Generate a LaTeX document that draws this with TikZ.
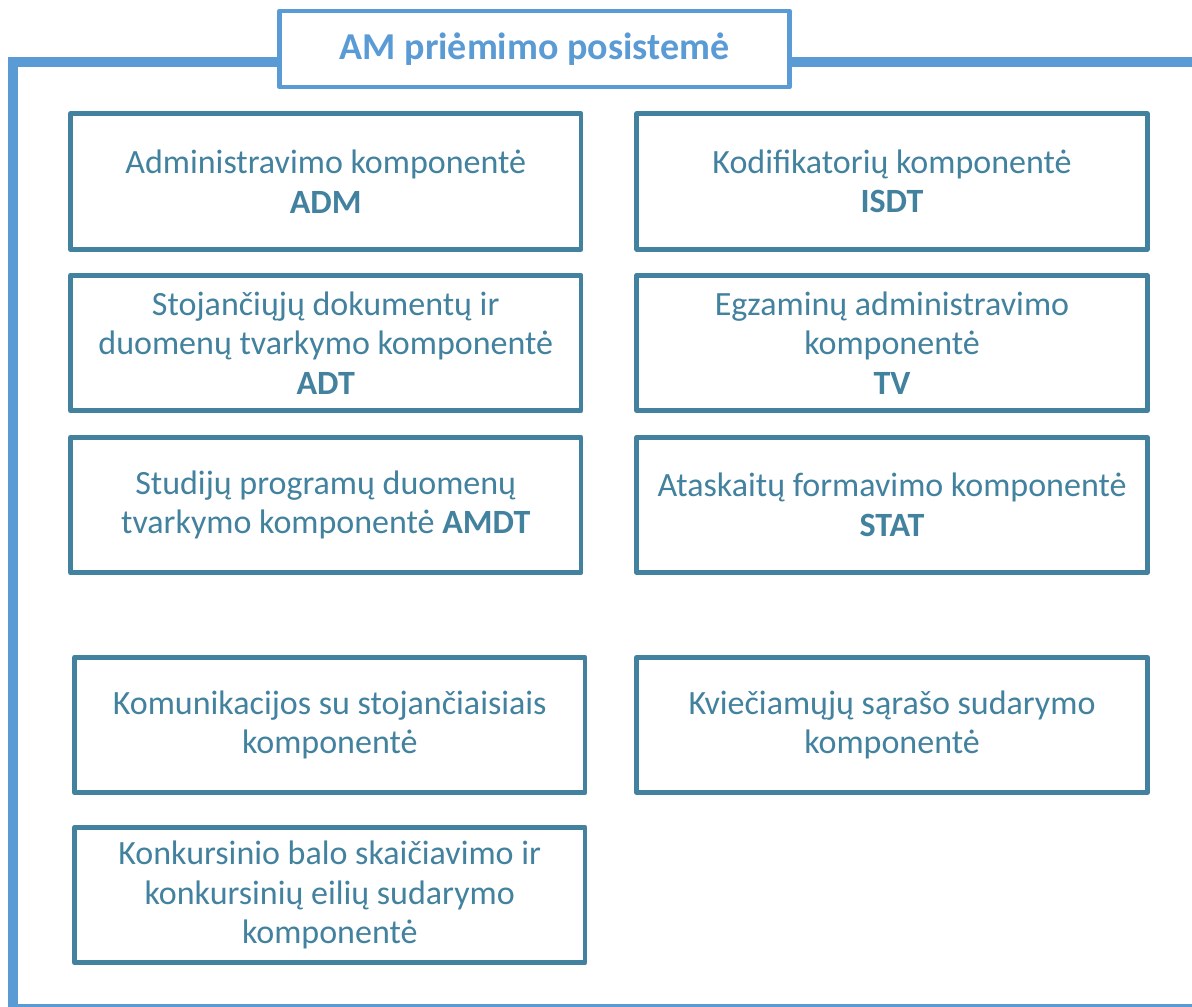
\documentclass[tikz,border=0pt]{standalone}
\usepackage{fontspec}
\setmainfont{Carlito}
\definecolor{frameblue}{HTML}{5B9BD5}
\definecolor{boxteal}{HTML}{42829F}
\begin{document}
\begin{tikzpicture}[x=1pt,y=-1pt,
  comp/.style={draw=boxteal, line width=4.8pt, line join=round, fill=white,
    minimum width=510.5pt, minimum height=135.5pt, inner sep=0pt,
    text=boxteal, align=center, font=\fontsize{34}{39.5}\selectfont},
  titlebox/.style={draw=frameblue, line width=4.5pt, line join=round, fill=white,
    minimum width=510pt, minimum height=76pt, inner sep=0pt,
    text=frameblue, font=\fontsize{38}{44}\selectfont\bfseries}]
\useasboundingbox (0,0) rectangle (1192,1007);
\clip (0,0) rectangle (1192,1007);
% outer frame
\draw[frameblue, line width=10pt] (1210,62) -- (13,62) -- (13,1009) -- (1210,1009);
% title
\node[titlebox] (title) at (534.5,49) {AM priėmimo posistemė};
% components
\node[comp] (adm)  at (325.75,181.5) {Administravimo komponentė\\\textbf{ADM}};
\node[comp] (isdt) at (892,181.5) {Kodifikatorių komponentė\\\textbf{ISDT}};
\node[comp] (adt)  at (325.75,343) {Stojančiųjų dokumentų ir\\duomenų tvarkymo komponentė\\\textbf{ADT}};
\node[comp] (tv)   at (892,343) {Egzaminų administravimo\\komponentė\\\textbf{TV}};
\node[comp] (amdt) at (325.75,505) {Studijų programų duomenų\\tvarkymo komponentė \textbf{AMDT}};
\node[comp] (stat) at (892,505) {Ataskaitų formavimo komponentė\\\textbf{STAT}};
\node[comp] (kom)  at (329.75,725) {Komunikacijos su stojančiaisiais\\komponentė};
\node[comp] (kvs)  at (892,725) {Kviečiamųjų sąrašo sudarymo\\komponentė};
\node[comp] (kbs)  at (329.75,895) {Konkursinio balo skaičiavimo ir\\konkursinių eilių sudarymo\\komponentė};
\end{tikzpicture}
\end{document}
